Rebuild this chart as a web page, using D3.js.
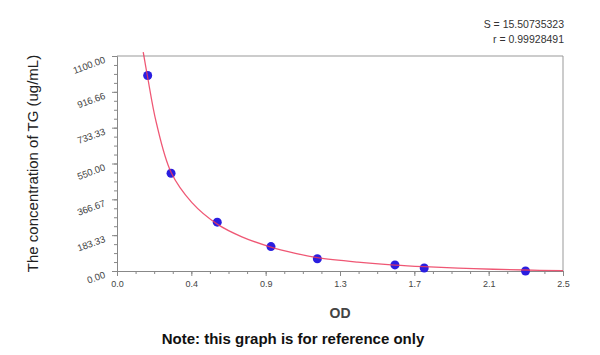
<!DOCTYPE html>
<html>
<head>
<meta charset="utf-8">
<script src="https://cdn.jsdelivr.net/npm/d3@7"></script>
<style>
  body { margin: 0; background: #fff; }
  text { font-family: "Liberation Sans", Arial, sans-serif; }
</style>
</head>
<body>
<div id="container"></div>
<script>
/* CONSTANTS AND GLOBALS */
const width = 600;
const height = 355;
const margin = {top: 56, bottom: 84, left: 117, right: 37};

/* DATA */
const od = [0.172, 0.303, 0.562, 0.863, 1.123, 1.558, 1.722, 2.29];
const conc = [1000, 500, 250, 125, 62.5, 31.25, 15.6, 0];
// fitted curve
const fitOd = [0.147, 0.172, 0.22, 0.303, 0.42, 0.562, 0.7, 0.863, 1.0, 1.123, 1.35, 1.558, 1.722, 2.0, 2.29, 2.5];
const fitConc = [1120, 990, 760, 505, 350, 240, 175, 122, 90, 68, 45, 30, 22, 12, 5, 2];
const xTickVals = [0, 2.5 / 6, 5 / 6, 1.25, 10 / 6, 12.5 / 6, 2.5];
const xTickLabels = ["0.0", "0.4", "0.9", "1.3", "1.7", "2.1", "2.5"];
const yTickVals = [0, 1100 / 6, 2200 / 6, 550, 4400 / 6, 5500 / 6, 1100];
const yTickLabels = ["0.00", "183.33", "366.67", "550.00", "733.33", "916.66", "1100.00"];
const statS = "S = 15.50735323";
const statR = "r = 0.99928491";

/* SCALES */
const xScale = d3.scaleLinear()
  .domain([0, 2.5])
  .range([margin.left, width - margin.right]);

const yScale = d3.scaleLinear()
  .domain([0, 1100])
  .range([height - margin.bottom, margin.top]);

const svg = d3.select("#container")
  .append("svg")
  .attr("width", width)
  .attr("height", height);

const x0 = margin.left, x1 = width - margin.right;
const y0 = height - margin.bottom, y1 = margin.top;

// frame top and right
svg.append("line").attr("x1", x0).attr("x2", x1).attr("y1", y1).attr("y2", y1)
  .attr("stroke", "#999").attr("stroke-width", 1);
svg.append("line").attr("x1", x1).attr("x2", x1).attr("y1", y1).attr("y2", y0)
  .attr("stroke", "#999").attr("stroke-width", 1);

// minor ticks
const yMinor = d3.range(0, 25).map(i => i * 1100 / 24);
const xMinor = d3.range(0, 25).map(i => i * 2.5 / 24);

// y axis
const yAxis = svg.append("g")
  .attr("transform", `translate(${x0},0)`)
  .call(d3.axisLeft(yScale).tickValues(yMinor).tickSize(3).tickFormat(""));
yAxis.select(".domain").attr("stroke", "#888");
yAxis.selectAll(".tick line").attr("stroke", "#888");

const yMajor = svg.append("g")
  .attr("transform", `translate(${x0},0)`)
  .call(d3.axisLeft(yScale).tickValues(yTickVals).tickSize(5).tickFormat((d, i) => yTickLabels[i]));
yMajor.select(".domain").remove();
yMajor.selectAll(".tick line").attr("stroke", "#888");
yMajor.selectAll(".tick text")
  .attr("font-size", 9.5)
  .attr("fill", "#444")
  .attr("x", -11)
  .attr("y", 6)
  .attr("dy", 0)
  .attr("transform", "rotate(-20,-11,6)");

// x axis
const xAxis = svg.append("g")
  .attr("transform", `translate(0,${y0})`)
  .call(d3.axisBottom(xScale).tickValues(xMinor).tickSize(3).tickFormat(""));
xAxis.select(".domain").attr("stroke", "#888");
xAxis.selectAll(".tick line").attr("stroke", "#888");

const xMajor = svg.append("g")
  .attr("transform", `translate(0,${y0})`)
  .call(d3.axisBottom(xScale).tickValues(xTickVals).tickSize(5).tickFormat((d, i) => xTickLabels[i]));
xMajor.select(".domain").remove();
xMajor.selectAll(".tick line").attr("stroke", "#888");
xMajor.selectAll(".tick text")
  .attr("font-size", 9)
  .attr("fill", "#444")
  .attr("dy", "0.9em");

// points
svg.selectAll("circle.pt")
  .data(od)
  .join("circle")
  .attr("class", "pt")
  .attr("cx", d => xScale(d))
  .attr("cy", (d, i) => yScale(conc[i]))
  .attr("r", 4.5)
  .attr("fill", "#2a1ee0");

// fitted line
const line = d3.line()
  .x(d => xScale(d[0]))
  .y(d => yScale(d[1]))
  .curve(d3.curveCatmullRom);
svg.append("path")
  .datum(fitOd.map((d, i) => [d, fitConc[i]]))
  .attr("d", line)
  .attr("fill", "none")
  .attr("stroke", "#ec3a5c")
  .attr("stroke-opacity", 0.85)
  .attr("stroke-width", 1.3);

// labels
svg.append("text")
  .attr("x", (x0 + x1) / 2)
  .attr("y", 318)
  .attr("text-anchor", "middle")
  .attr("font-size", 14)
  .attr("font-weight", "bold")
  .attr("fill", "#444")
  .text("OD");

svg.append("text")
  .attr("transform", `translate(38,${(y0 + y1) / 2}) rotate(-90)`)
  .attr("text-anchor", "middle")
  .attr("font-size", 15)
  .attr("fill", "#222")
  .text("The concentration of TG (ug/mL)");

svg.append("text")
  .attr("x", 293)
  .attr("y", 344)
  .attr("text-anchor", "middle")
  .attr("font-size", 15)
  .attr("font-weight", "bold")
  .attr("fill", "#111")
  .text("Note: this graph is for reference only");

svg.append("text")
  .attr("x", 564)
  .attr("y", 28)
  .attr("text-anchor", "end")
  .attr("font-size", 10.5)
  .attr("fill", "#333")
  .text(statS);
svg.append("text")
  .attr("x", 564)
  .attr("y", 43)
  .attr("text-anchor", "end")
  .attr("font-size", 10.5)
  .attr("fill", "#333")
  .text(statR);
</script>
</body>
</html>
